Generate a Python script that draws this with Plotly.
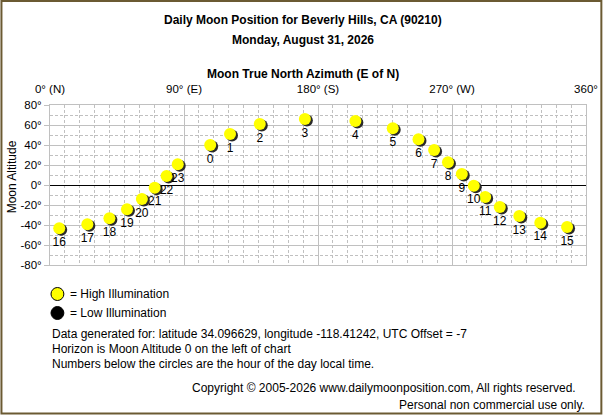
import plotly.graph_objects as go

# ---- data ----
hours = [16, 17, 18, 19, 20, 21, 22, 23, 0, 1, 2, 3, 4, 5, 6, 7, 8, 9, 10, 11, 12, 13, 14, 15]
azimuth = [6.2, 25.1, 39.9, 51.7, 61.7, 70.3, 78.3, 85.8, 107.6, 120.9, 140.9, 171.2,
           205.1, 230.2, 247.5, 258.0, 267.3, 276.6, 284.6, 292.3, 302.1, 315.2, 329.3, 347.3]
altitude = [-43.3, -39.3, -33.3, -24.3, -14.0, -2.7, 9.0, 20.7, 40.0, 51.0, 61.0, 66.0,
            64.0, 56.7, 45.7, 35.0, 22.7, 11.0, -0.7, -12.0, -22.0, -31.0, -37.7, -42.0]
illumination = ["high"] * len(hours)

x_tick_vals = [0, 90, 180, 270, 360]
x_tick_text = ["0° (N)", "90° (E)", "180° (S)", "270° (W)", "360°"]
y_tick_vals = [80, 60, 40, 20, 0, -20, -40, -60, -80]
y_tick_text = ["80°", "60°", "40°", "20°", "0°", "-20°", "-40°", "-60°", "-80°"]

title1 = "Daily Moon Position for Beverly Hills, CA (90210)"
title2 = "Monday, August 31, 2026"
x_title = "Moon True North Azimuth (E of N)"
y_title = "Moon Altitude"
legend_high = "= High Illumination"
legend_low = "= Low Illumination"
info_lines = [
    "Data generated for: latitude 34.096629, longitude -118.41242, UTC Offset = -7",
    "Horizon is Moon Altitude 0 on the left of chart",
    "Numbers below the circles are the hour of the day local time.",
]
copyright1 = "Copyright © 2005-2026 www.dailymoonposition.com, All rights reserved."
copyright2 = "Personal non commercial use only."

# ---- layout geometry ----
W, H = 610, 415
L, R, T, B = 50, 19, 105, 150
PW, PH = W - L - R, H - T - B
XR = [0, 360]
YR = [-80, 80]
pxdeg_x = PW / (XR[1] - XR[0])
pxdeg_y = PH / (YR[1] - YR[0])


def px(xp):
    return (xp - L) / PW


def py(yp):
    return (H - B - yp) / PH


FONT = "Liberation Sans"
GRID = "#c0c0c0"
DASH = "3px,2px"
colors = {"high": "#ffff00", "low": "#000000"}

fig = go.Figure()

# base subplot trace (low-illumination points; none on this day)
low_idx = [i for i, v in enumerate(illumination) if v == "low"]
fig.add_trace(go.Scatter(
    x=[azimuth[i] for i in low_idx], y=[altitude[i] for i in low_idx], mode="markers",
    marker=dict(size=12, color="#000000"), hoverinfo="skip", showlegend=False))

# shadow of each moon disc (drawn through an offset overlay axis pair)
sdx, sdy = 2.0, 1.5
fig.add_trace(go.Scatter(
    x=azimuth, y=altitude, xaxis="x2", yaxis="y2", mode="markers",
    marker=dict(size=12, color="#2a2a2a", line=dict(width=0)),
    hoverinfo="skip", showlegend=False))

# lit discs with hour labels (on an unshifted overlay so they sit above the shadow)
fig.add_trace(go.Scatter(
    x=azimuth, y=altitude, xaxis="x3", yaxis="y3", mode="markers+text",
    text=[str(h) for h in hours], textposition="bottom center",
    textfont=dict(family=FONT, size=12, color="black"),
    marker=dict(size=12, color=[colors[i] for i in illumination], line=dict(width=0)),
    showlegend=False))

fig.update_layout(
    width=W, height=H, margin=dict(l=L, r=R, t=T, b=B),
    paper_bgcolor="white", plot_bgcolor="white",
    font=dict(family=FONT, size=11, color="black"),
    xaxis=dict(range=XR, side="top", tickmode="array", tickvals=x_tick_vals,
               ticktext=x_tick_text, showgrid=True, gridcolor=GRID, gridwidth=1,
               ticks="", ticklabelstandoff=6, zeroline=False,
               showline=True, linecolor=GRID, mirror=True,
               minor=dict(dtick=10, tick0=0, showgrid=True, gridcolor=GRID,
                          griddash=DASH, ticks=""),
               tickfont=dict(size=11.5), fixedrange=True),
    yaxis=dict(range=YR, tickmode="array", tickvals=y_tick_vals, ticktext=y_tick_text,
               showgrid=True, gridcolor=GRID, gridwidth=1,
               ticks="outside", ticklen=5, tickcolor=GRID,
               zeroline=True, zerolinecolor="black", zerolinewidth=1.2,
               showline=True, linecolor=GRID, mirror=True,
               minor=dict(dtick=10, tick0=0, showgrid=True, gridcolor=GRID,
                          griddash=DASH, ticks=""),
               tickfont=dict(size=11.5), fixedrange=True),
    xaxis2=dict(overlaying="x", range=[XR[0] - sdx / pxdeg_x, XR[1] - sdx / pxdeg_x],
                visible=False, fixedrange=True),
    yaxis2=dict(overlaying="y", range=[YR[0] + sdy / pxdeg_y, YR[1] + sdy / pxdeg_y],
                visible=False, fixedrange=True),
    xaxis3=dict(overlaying="x", range=XR, visible=False, fixedrange=True),
    yaxis3=dict(overlaying="y", range=YR, visible=False, fixedrange=True),
)

ann = []


def text(s, xp, yp, xanchor="center", size=12, bold=False, angle=0):
    ann.append(dict(text=("<b>%s</b>" % s) if bold else s, x=px(xp), y=py(yp),
                    xref="paper", yref="paper", xanchor=xanchor, yanchor="middle",
                    showarrow=False, textangle=angle,
                    font=dict(family=FONT, size=size, color="black")))


text(title1, 305, 20, bold=True, size=12)
text(title2, 305, 40, bold=True, size=12)
text(x_title, 305, 74, bold=True, size=12)
text(y_title, 12, 177, size=12, angle=-90)
text(legend_high, 68, 294, xanchor="left")
text(legend_low, 68, 313, xanchor="left")
for i, s in enumerate(info_lines):
    text(s, 50, 334 + 15 * i, xanchor="left")
text(copyright1, 583, 388, xanchor="right")
text(copyright2, 592, 405, xanchor="right")
fig.update_layout(annotations=ann)

shapes = [
    # outer frame
    dict(type="rect", xref="paper", yref="paper", x0=px(1), x1=px(606.5), y0=py(413.5),
         y1=py(1), line=dict(color="#6b5a32", width=2), fillcolor="rgba(0,0,0,0)"),
    # legend discs
    dict(type="circle", xref="paper", yref="paper", x0=px(51), x1=px(64), y0=py(300.5),
         y1=py(287.5), line=dict(color="black", width=1), fillcolor="#ffff00"),
    dict(type="circle", xref="paper", yref="paper", x0=px(51), x1=px(64), y0=py(319.5),
         y1=py(306.5), line=dict(color="black", width=1), fillcolor="#000000"),
]
fig.update_layout(shapes=shapes)

fig.write_html(
    "out.html", config={"displayModeBar": False},
    post_script=("document.documentElement.style.overflow='hidden';"
                 "document.documentElement.style.margin='0';"
                 "document.body.style.margin='0';document.body.style.padding='0';"
                 "document.body.style.overflow='hidden';"))
